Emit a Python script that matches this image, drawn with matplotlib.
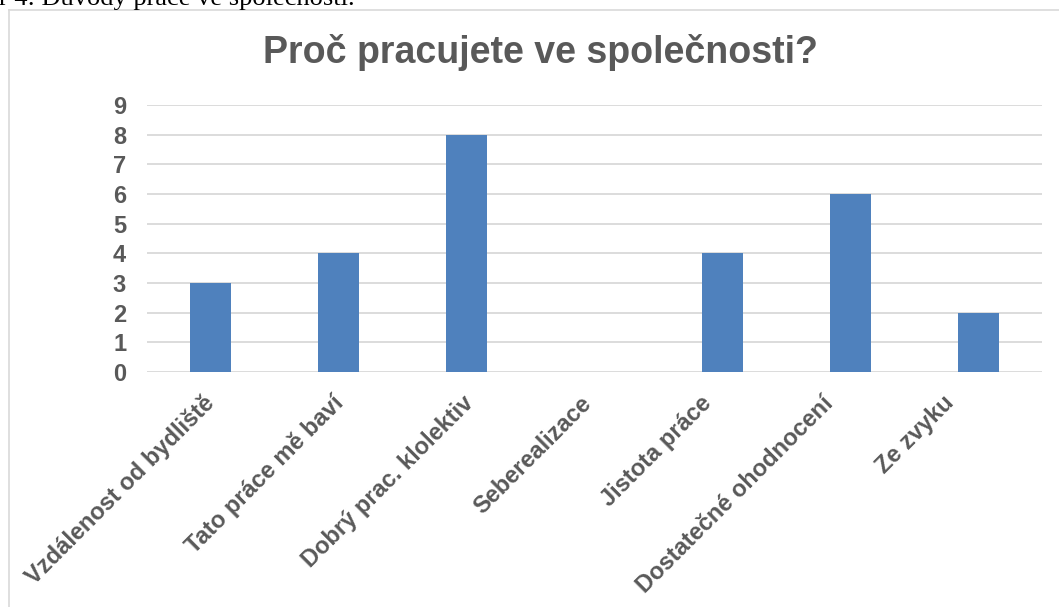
import matplotlib
matplotlib.use("Agg")
import matplotlib.pyplot as plt
import matplotlib.transforms as mtransforms
from matplotlib.lines import Line2D

# ---- data ----
CATEGORIES = ['Vzdálenost od bydliště', 'Tato práce mě baví', 'Dobrý prac. klolektiv',
              'Seberealizace', 'Jistota práce', 'Dostatečné ohodnocení', 'Ze zvyku']
COUNTS = [3, 4, 8, 0, 4, 6, 2]
Y_TICKS = list(range(0, 10))
TITLE = 'Proč pracujete ve společnosti?'
CAPTION = 'r 4: Důvody práce ve společnosti.'

# ---- style ----
W, H, DPI = 1059, 607, 100
BAR_COLOR = '#4f81bd'
TEXT_COLOR = '#595959'
GRID_COLOR = '#d9d9d9'
SANS = ['Liberation Sans', 'DejaVu Sans']
SERIF = ['Liberation Serif', 'DejaVu Serif']
# horizontal nudge (px) of each rotated x label, as Excel places them
LABEL_DX = [0, 1, 3, -7, -14, -20, -28]

fig = plt.figure(figsize=(W / DPI, H / DPI), dpi=DPI)

def fx(px): return px / W
def fy(py): return 1 - py / H

# chart frame (cropped on right/bottom)
fig.add_artist(Line2D([fx(8.5), fx(8.5)], [fy(10), fy(H + 5)], color=GRID_COLOR, lw=1.2,
                      transform=fig.transFigure))
fig.add_artist(Line2D([fx(8.5), fx(W + 5)], [fy(10), fy(10)], color=GRID_COLOR, lw=1.2,
                      transform=fig.transFigure))

# caption above the chart, clipped by the top edge
fig.text(fx(-1), fy(5), CAPTION, family=SERIF, fontsize=19, color='black',
         ha='left', va='baseline')

ax = fig.add_axes([fx(147), fy(372), fx(1042) - fx(147), fy(105) - fy(372)])
x = list(range(len(CATEGORIES)))
ax.bar(x, COUNTS, width=0.32, color=BAR_COLOR, zorder=3)
ax.set_xlim(-0.5, len(CATEGORIES) - 0.5)
ax.set_ylim(0, 9)
ax.set_yticks(Y_TICKS)
ax.yaxis.grid(True, color=GRID_COLOR, lw=1.3, zorder=0)
ax.set_axisbelow(True)
for s in ax.spines.values():
    s.set_visible(False)
ax.tick_params(axis='both', length=0)
ax.tick_params(axis='y', pad=15)
ax.set_yticklabels([str(v) for v in Y_TICKS], family=SANS, fontweight='bold',
                   fontsize=17, color=TEXT_COLOR)
ax.set_xticks(x)
ax.set_xticklabels(CATEGORIES, family=SANS, fontweight='bold', fontsize=17,
                   color=TEXT_COLOR, rotation=45, ha='right', va='center',
                   rotation_mode='anchor')
ax.tick_params(axis='x', pad=20)
for lbl, dx in zip(ax.get_xticklabels(), LABEL_DX):
    offset = mtransforms.ScaledTranslation(dx / DPI, 0, fig.dpi_scale_trans)
    lbl.set_transform(lbl.get_transform() + offset)

fig.text(fx(540), fy(63), TITLE, family=SANS, fontweight='bold', fontsize=27,
         color=TEXT_COLOR, ha='center', va='baseline')

fig.savefig('out.png', dpi=DPI)
